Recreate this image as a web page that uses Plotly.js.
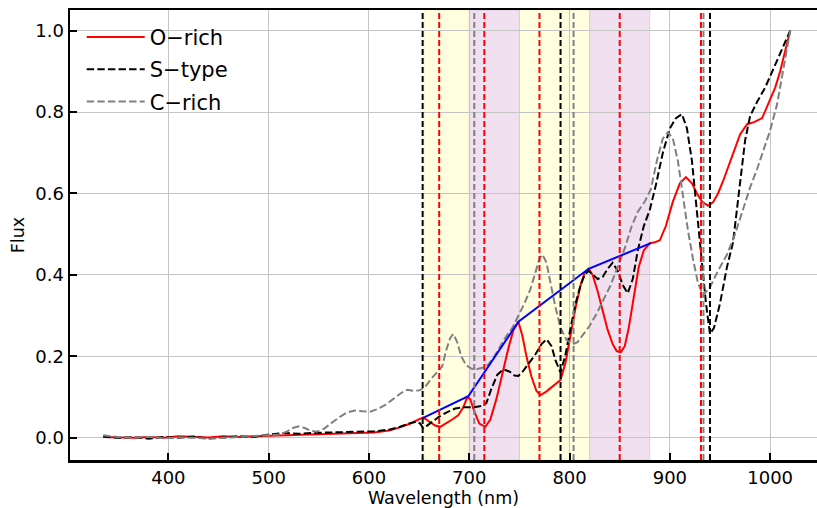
<!DOCTYPE html>
<html>
<head>
<meta charset="utf-8">
<script src="https://cdn.plot.ly/plotly-3.0.1.min.js"></script>
<style>html,body{margin:0;padding:0;background:#fff;}#chart{width:817px;height:508px;}</style>
</head>
<body>
<div id="chart"></div>
<script>
// O-rich spectrum
const wlO = [335,350,365,380,395,410,425,440,455,470,485,500,515,530,545,560,575,590,605,620,630,640,648,654,660,666,671,677,683,689,694,698,701,705,710,716,721,727,733,739,744,749,753,757,762,767,771,776,781,786,791,796,801,806,811,815,819,823,828,833,838,843,847,851,855,859,864,869,874,880,885,890,896,903,910,916,922,927,932,938,943,948,953,958,963,970,977,984,992,1000,1005,1010,1015,1020];
const fluxO = [0.002,0.001,0.000,0.002,0.000,0.004,0.002,0.001,0.004,0.002,0.004,0.005,0.007,0.008,0.009,0.009,0.010,0.012,0.013,0.018,0.025,0.034,0.043,0.050,0.040,0.030,0.027,0.035,0.045,0.055,0.075,0.100,0.095,0.065,0.035,0.027,0.045,0.095,0.160,0.220,0.265,0.285,0.250,0.200,0.150,0.115,0.105,0.112,0.122,0.132,0.142,0.185,0.250,0.320,0.375,0.405,0.415,0.400,0.360,0.310,0.265,0.230,0.213,0.210,0.225,0.270,0.350,0.420,0.460,0.478,0.480,0.485,0.520,0.580,0.625,0.640,0.625,0.600,0.580,0.570,0.578,0.600,0.630,0.665,0.700,0.745,0.770,0.775,0.785,0.830,0.860,0.900,0.950,1.000];

// S-type spectrum
const wlS = [335,350,365,380,395,410,425,440,455,470,485,500,515,530,545,560,575,590,605,620,631,640,648,651,654,658,663,670,678,686,695,705,712,717,722,728,734,740,745,749,754,760,766,772,777,782,786,791,796,801,806,811,815,819,823,828,833,838,843,848,853,858,863,868,874,880,886,893,900,906,912,917,922,927,932,936,940,944,950,957,963,970,975,980,987,995,1003,1010,1015,1020];
const fluxS = [0.003,0.000,0.002,-0.002,0.002,0.000,0.003,-0.002,0.001,0.004,0.002,0.008,0.012,0.010,0.012,0.013,0.013,0.015,0.016,0.020,0.027,0.035,0.040,0.035,0.024,0.030,0.040,0.052,0.063,0.072,0.075,0.075,0.078,0.085,0.120,0.155,0.168,0.163,0.153,0.152,0.165,0.185,0.205,0.230,0.242,0.225,0.190,0.160,0.205,0.270,0.330,0.375,0.400,0.410,0.400,0.390,0.395,0.415,0.430,0.410,0.375,0.355,0.390,0.460,0.520,0.560,0.620,0.700,0.760,0.785,0.795,0.760,0.680,0.560,0.430,0.330,0.255,0.270,0.330,0.420,0.480,0.620,0.730,0.790,0.825,0.860,0.905,0.940,0.970,1.000];

// C-rich spectrum
const wlC = [335,350,365,380,395,410,425,440,455,470,485,500,510,518,524,530,536,542,548,555,562,570,578,586,594,601,608,616,624,632,638,645,651,656,662,668,673,677,681,684,688,692,697,702,707,713,719,725,731,737,743,749,755,761,766,770,773,777,781,786,791,797,803,808,814,820,827,834,841,848,855,862,868,875,881,887,893,898,903,908,913,918,923,928,933,940,948,957,965,973,980,987,994,1000,1007,1013,1020];
const fluxC = [0.006,0.002,0.001,0.002,-0.001,0.001,0.000,-0.002,0.000,0.002,0.003,0.005,0.008,0.015,0.024,0.028,0.024,0.017,0.015,0.022,0.035,0.050,0.062,0.067,0.065,0.064,0.070,0.080,0.095,0.110,0.118,0.115,0.117,0.125,0.145,0.160,0.175,0.215,0.245,0.255,0.235,0.200,0.178,0.170,0.168,0.172,0.180,0.200,0.225,0.250,0.270,0.300,0.330,0.365,0.410,0.440,0.450,0.430,0.380,0.320,0.270,0.240,0.230,0.235,0.255,0.275,0.305,0.340,0.375,0.420,0.465,0.520,0.555,0.580,0.610,0.680,0.735,0.750,0.735,0.680,0.590,0.510,0.440,0.380,0.350,0.370,0.410,0.450,0.500,0.560,0.615,0.660,0.710,0.755,0.820,0.900,1.000];

// Pseudo-continuum (blue) through O-rich peaks
const contWl = [654,699,749,819,881];
const contFlux = [0.049,0.102,0.285,0.415,0.478];

// Band marker lines (nm)
const linesO = [670,715,770,850,931];
const linesS = [653.5,791,940];
const linesC = [705,804,933.5];

// Shaded windows (nm)
const yellowBands = [[655,700],[750,820]];
const purpleBands = [[700,750],[820,880]];

const seriesNames = ['O\u2212rich','S\u2212type','C\u2212rich'];

const dashPat = '7.4px,3.2px';
const traces = [
  {x: wlO, y: fluxO, name: seriesNames[0], mode: 'lines', line: {color: '#ff0000', width: 2}, legendgroup: 'a'},
  {x: wlS, y: fluxS, name: seriesNames[1], mode: 'lines', line: {color: '#000000', width: 2, dash: dashPat}, legendgroup: 'b'},
  {x: wlC, y: fluxC, name: seriesNames[2], mode: 'lines', line: {color: '#808080', width: 2, dash: dashPat}, legendgroup: 'c'},
  {x: contWl, y: contFlux, mode: 'lines', line: {color: '#0000ff', width: 2}, showlegend: false}
];

const shapes = [];
yellowBands.forEach(b => shapes.push({type: 'rect', xref: 'x', yref: 'paper', x0: b[0], x1: b[1], y0: 0, y1: 1, fillcolor: 'rgba(255,255,0,0.12)', line: {color: 'rgba(230,200,120,0.25)', width: 1}, layer: 'below'}));
purpleBands.forEach(b => shapes.push({type: 'rect', xref: 'x', yref: 'paper', x0: b[0], x1: b[1], y0: 0, y1: 1, fillcolor: 'rgba(128,0,128,0.12)', line: {color: 'rgba(160,100,160,0.2)', width: 1}, layer: 'below'}));
function vlines(arr, color) {
  arr.forEach(v => shapes.push({type: 'line', xref: 'x', yref: 'paper', x0: v, x1: v, y0: 0, y1: 1, line: {color: color, width: 2, dash: '6px,3px'}, layer: 'above'}));
}
vlines(linesC, '#808080');
vlines(linesO, '#ff0000');
vlines(linesS, '#000000');

const font = 'DejaVu Sans, sans-serif';
const layout = {
  width: 817, height: 508,
  margin: {l: 70, r: 0, t: 9.5, b: 48},
  paper_bgcolor: '#ffffff', plot_bgcolor: '#ffffff',
  font: {family: font, color: '#000', size: 17},
  showlegend: true,
  legend: {x: 0.0157, y: 0.985, xanchor: 'left', yanchor: 'top', bgcolor: 'rgba(0,0,0,0)', borderwidth: 0, font: {size: 21, family: font}, tracegroupgap: 2, traceorder: 'grouped', itemwidth: 58},
  xaxis: {
    range: [301.9, 1046.7], tickvals: [400,500,600,700,800,900,1000],
    ticks: 'inside', ticklen: 7, tickwidth: 2, tickcolor: '#000',
    showline: true, linewidth: 2.5, linecolor: '#000', mirror: true,
    showgrid: true, gridcolor: '#c4c4c4', gridwidth: 1, zeroline: false,
    tickfont: {size: 18, family: font},
    title: {text: 'Wavelength (nm)', font: {size: 17.5, family: font}, standoff: 4}
  },
  yaxis: {
    range: [-0.0545, 1.0505], tickvals: [0,0.2,0.4,0.6,0.8,1.0], ticktext: ['0.0','0.2','0.4','0.6','0.8','1.0'],
    ticks: 'inside', ticklen: 7, tickwidth: 2, tickcolor: '#000',
    showline: true, linewidth: 2.5, linecolor: '#000', mirror: false,
    showgrid: true, gridcolor: '#c4c4c4', gridwidth: 1, zeroline: false,
    tickfont: {size: 18, family: font},
    title: {text: 'Flux', font: {size: 17.5, family: font}, standoff: 6}
  },
  shapes: shapes
};
Plotly.newPlot('chart', traces, layout, {displayModeBar: false, staticPlot: true});
</script>
</body>
</html>
